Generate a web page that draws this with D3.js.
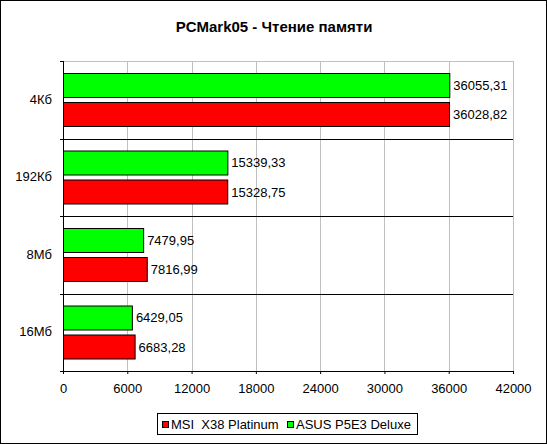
<!DOCTYPE html>
<html>
<head>
<meta charset="utf-8">
<script src="https://cdn.jsdelivr.net/npm/d3@7"></script>
<style>
  body { margin: 0; background: #fff; }
  text { font-family: "Liberation Sans", Arial, sans-serif; }
</style>
</head>
<body>
<div id="chart"></div>
<script>
// chart data
const categories = ["4Кб", "192Кб", "8Мб", "16Мб"];
const seriesNames = ["MSI  X38 Platinum", "ASUS P5E3 Deluxe"];
const msiValues = [36028.82, 15328.75, 7816.99, 6683.28];
const asusValues = [36055.31, 15339.33, 7479.95, 6429.05];
const xTicks = [0, 6000, 12000, 18000, 24000, 30000, 36000, 42000];
const seriesColors = ["#ff0000", "#00ff00"];

const width = 547, height = 444;
const margin = {top: 61, right: 34, bottom: 73, left: 63};
const plotW = width - margin.left - margin.right;
const plotH = height - margin.top - margin.bottom;

const fmt = v => v.toFixed(2).replace(".", ",");

const svg = d3.select("#chart")
    .append("svg")
    .attr("width", width)
    .attr("height", height);

// outer frame
svg.append("rect")
    .attr("x", 0.5).attr("y", 0.5)
    .attr("width", width - 1).attr("height", height - 1)
    .attr("fill", "#fff")
    .attr("stroke", "#000");

svg.append("text")
    .attr("x", 274)
    .attr("y", 32)
    .attr("text-anchor", "middle")
    .style("font-size", "15px")
    .style("font-weight", "bold")
    .text("PCMark05 - Чтение памяти");

const g = svg.append("g")
    .attr("transform", "translate(" + margin.left + "," + margin.top + ")");

const x = d3.scaleLinear()
    .domain([0, 42000])
    .range([0, plotW]);

const y = d3.scaleBand()
    .domain(categories)
    .range([0, plotH]);

// green bar on top, red below
const inner = d3.scaleBand()
    .domain([1, 0])
    .range([12, y.bandwidth() - 12])
    .paddingInner(0.17);

// grid lines
g.selectAll(".grid")
    .data(xTicks.slice(1))
    .join("line")
    .attr("class", "grid")
    .attr("x1", d => Math.round(x(d)) + 0.5)
    .attr("x2", d => Math.round(x(d)) + 0.5)
    .attr("y1", 0)
    .attr("y2", plotH)
    .attr("stroke", "#c0c0c0");

g.append("line")
    .attr("x1", 0).attr("x2", plotW)
    .attr("y1", 0.5).attr("y2", 0.5)
    .attr("stroke", "#c0c0c0");

// category separators
g.selectAll(".sep")
    .data(categories.slice(1))
    .join("line")
    .attr("class", "sep")
    .attr("x1", 0).attr("x2", plotW)
    .attr("y1", d => Math.round(y(d)) + 0.5)
    .attr("y2", d => Math.round(y(d)) + 0.5)
    .attr("stroke", "#000");

const rows = categories.map((c, i) => ({cat: c, vals: [msiValues[i], asusValues[i]]}));

const groups = g.selectAll(".row")
    .data(rows)
    .join("g")
    .attr("class", "row")
    .attr("transform", d => "translate(0," + y(d.cat) + ")");

const bars = groups.selectAll(".bar")
    .data(d => d.vals.map((v, s) => ({v: v, s: s})))
    .join("g");

bars.append("rect")
    .attr("x", 0.5)
    .attr("y", d => Math.round(inner(d.s)) + 0.5)
    .attr("width", d => x(d.v))
    .attr("height", Math.round(inner.bandwidth()))
    .attr("fill", d => seriesColors[d.s])
    .attr("stroke", "#000");

bars.append("text")
    .attr("x", d => x(d.v) + 4)
    .attr("y", d => inner(d.s) + inner.bandwidth() / 2)
    .attr("dy", "0.36em")
    .style("font-size", "13px")
    .text(d => fmt(d.v));

// axes
g.append("g")
    .attr("transform", "translate(0," + plotH + ")")
    .call(d3.axisBottom(x).tickValues(xTicks).tickFormat(d3.format("d")).tickSize(3).tickPadding(10))
    .call(a => a.select(".domain").attr("d", "M0.5,0.5H" + plotW))
    .call(a => a.selectAll("text").style("font-size", "13px").attr("fill", "#000")
        .style("font-family", "'Liberation Sans', Arial, sans-serif"));

g.append("g")
    .call(d3.axisLeft(y).tickSize(0).tickPadding(11))
    .call(a => a.select(".domain").attr("d", "M0.5,0V" + plotH))
    .call(a => a.selectAll("text").style("font-size", "13px").attr("fill", "#000")
        .style("font-family", "'Liberation Sans', Arial, sans-serif"));

// left tick marks on category boundaries
g.selectAll(".ytick")
    .data(d3.range(categories.length + 1))
    .join("line")
    .attr("class", "ytick")
    .attr("x1", -3).attr("x2", 0)
    .attr("y1", d => Math.round(d * y.step()) + 0.5)
    .attr("y2", d => Math.round(d * y.step()) + 0.5)
    .attr("stroke", "#000");

// legend
const legend = svg.append("g").attr("transform", "translate(157,413)");
legend.append("rect")
    .attr("x", 0.5).attr("y", 0.5)
    .attr("width", 260).attr("height", 21)
    .attr("fill", "#fff")
    .attr("stroke", "#000");

const legendX = [5, 130];
const items = legend.selectAll(".item")
    .data(seriesNames)
    .join("g")
    .attr("transform", (d, i) => "translate(" + legendX[i] + ",0)");

items.append("rect")
    .attr("x", 0.5).attr("y", 8.5)
    .attr("width", 6).attr("height", 6)
    .attr("fill", (d, i) => seriesColors[i])
    .attr("stroke", "#000");

items.append("text")
    .attr("x", 9)
    .attr("y", 15.5)
    .style("font-size", "13px")
    .attr("xml:space", "preserve")
    .style("white-space", "pre")
    .text(d => d);
</script>
</body>
</html>
